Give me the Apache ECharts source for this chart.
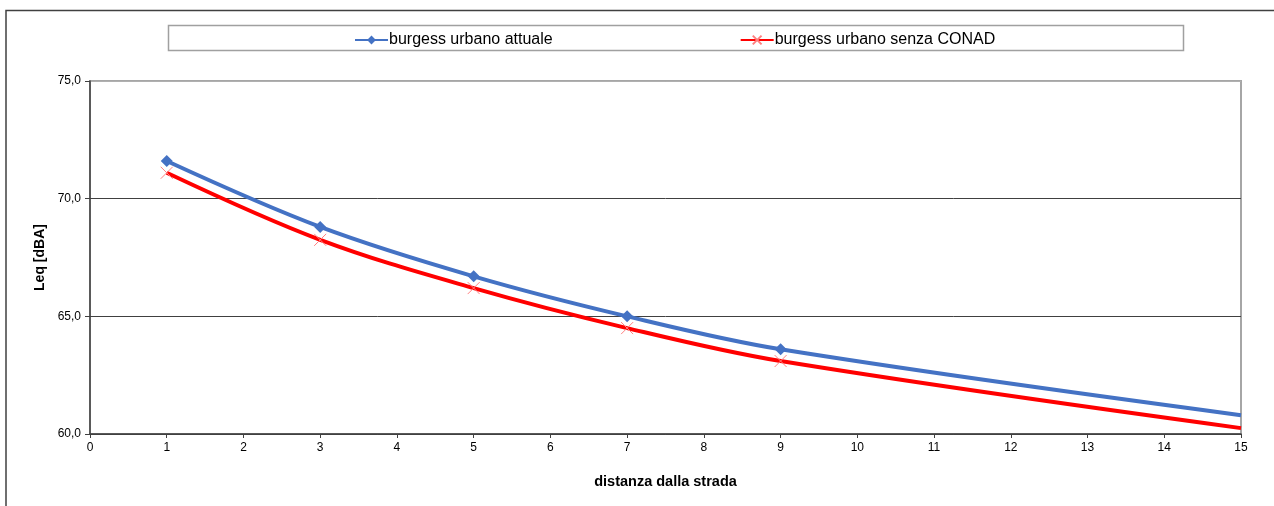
<!DOCTYPE html>
<html><head><meta charset="utf-8">
<script src="https://cdn.jsdelivr.net/npm/echarts@6/dist/echarts.min.js"></script>
<style>html,body{margin:0;padding:0;background:#fff}#c{width:1274px;height:506px}</style>
</head><body><div id="c"></div>
<script>
const distances = [1, 3, 5, 7, 9, 15];
const attuale = [71.6, 68.8, 66.7, 65.0, 63.6, 60.8];
const senzaConad = [71.1, 68.25, 66.2, 64.5, 63.1, 60.25];
const seriesNames = ['burgess urbano attuale', 'burgess urbano senza CONAD'];
const yTitle = 'Leq [dBA]';
const xTitle = 'distanza dalla strada';

function pts(vals){
  return distances.map((d,i)=> i===distances.length-1 ? {value:[d,vals[i]], symbol:'none'} : {value:[d,vals[i]]});
}
const chart = echarts.init(document.getElementById('c'));
const font = '"Liberation Sans", Arial, sans-serif';
chart.setOption({
  animation:false,
  textStyle:{fontFamily:font},
  graphic:[
    {type:'polyline', shape:{points:[[6,506],[6,10.5],[1274,10.5]]}, style:{stroke:'#404040', lineWidth:1.5, fill:null}, z:-1},
    {type:'rect', shape:{x:168.5,y:25.5,width:1015,height:25}, style:{stroke:'#a0a0a0', lineWidth:1.5, fill:'#fff'}, z:-1}
  ],
  legend:{
    top:27, left:349, itemGap:187, itemWidth:33, itemHeight:11,
    textStyle:{fontFamily:font, fontSize:16, color:'#000', padding:[0,0,0,-4]},
    data: seriesNames
  },
  grid:{left:90, right:33, top:81, bottom:72, show:true, borderColor:'#a6a6a6', borderWidth:2},
  xAxis:{
    type:'value', min:0, max:15, interval:1,
    name:xTitle, nameLocation:'middle', nameGap:40,
    nameTextStyle:{fontFamily:font, fontWeight:'bold', fontSize:14.5, color:'#000'},
    axisLine:{lineStyle:{color:'#404040', width:1.5}},
    axisTick:{show:true, length:4, lineStyle:{color:'#404040'}},
    axisLabel:{color:'#000', fontSize:12, margin:8},
    splitLine:{show:false}
  },
  yAxis:{
    type:'value', min:60, max:75, interval:5,
    name:yTitle, nameLocation:'middle', nameGap:43,
    nameTextStyle:{fontFamily:font, fontWeight:'bold', fontSize:14, color:'#000'},
    axisLine:{show:true, lineStyle:{color:'#404040', width:1.5}},
    axisTick:{show:true, length:5, lineStyle:{color:'#404040'}},
    axisLabel:{color:'#000', fontSize:12, margin:9, formatter:v=>v.toFixed(1).replace('.',',')},
    splitLine:{show:true, lineStyle:{color:['#404040','#404040','#404040','#b0b0b0'], width:1}}
  },
  series:[
    {name:seriesNames[0], type:'line', smooth:0.35, data:pts(attuale),
     symbol:'diamond', symbolSize:12, showSymbol:true,
     lineStyle:{color:'#4472C4', width:4}, itemStyle:{color:'#4472C4'}, z:3},
    {name:seriesNames[1], type:'line', smooth:0.35, data:pts(senzaConad),
     symbol:'path://M0,0L10,10M10,0L0,10', symbolSize:12, showSymbol:true,
     lineStyle:{color:'#FF0000', width:4}, itemStyle:{color:'rgba(0,0,0,0)', borderColor:'#ff8080', borderWidth:1}, z:2}
  ]
});
</script></body></html>
